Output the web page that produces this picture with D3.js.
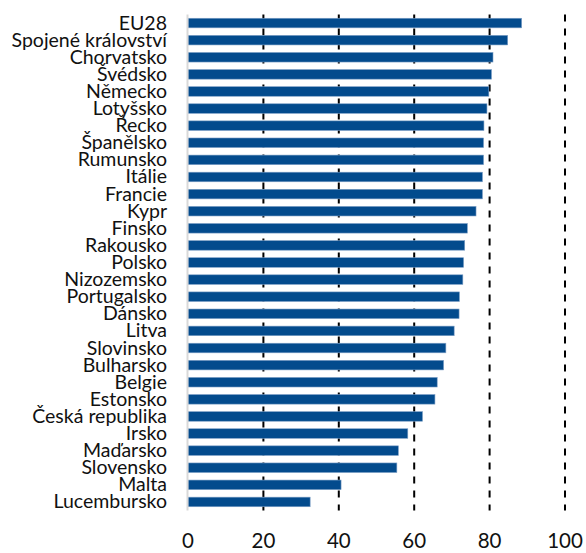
<!DOCTYPE html>
<html>
<head>
<meta charset="utf-8">
<title>Bar chart</title>
<script src="https://cdn.jsdelivr.net/npm/d3@7"></script>
<style>
  body { margin: 0; background: #fff; }
  svg { display: block; }
  .cat { font-family: Lato, "Liberation Sans", sans-serif; font-size: 19.5px; fill: #111; }
  .tick-lbl { font-family: Lato, "Liberation Sans", sans-serif; font-size: 20.5px; fill: #111; }
</style>
</head>
<body>
<svg id="chart"></svg>
<script>
// data
var countries = ["EU28", "Spojené království", "Chorvatsko", "Švédsko", "Německo", "Lotyšsko",
  "Řecko", "Španělsko", "Rumunsko", "Itálie", "Francie", "Kypr", "Finsko", "Rakousko", "Polsko",
  "Nizozemsko", "Portugalsko", "Dánsko", "Litva", "Slovinsko", "Bulharsko", "Belgie", "Estonsko",
  "Česká republika", "Irsko", "Maďarsko", "Slovensko", "Malta", "Lucembursko"];
var values = [88.5, 84.8, 80.9, 80.5, 79.8, 79.3, 78.5, 78.4, 78.4, 78.1, 78.1, 76.4, 74.1, 73.4,
  73.1, 72.9, 72.0, 71.9, 70.6, 68.4, 67.8, 66.1, 65.5, 62.2, 58.3, 55.8, 55.4, 40.6, 32.4];
var ticks = [0, 20, 40, 60, 80, 100];

var width = 586, height = 553;
var svg = d3.select("#chart").attr("width", width).attr("height", height);

var x = d3.scaleLinear().domain([0, 100]).range([188, 565]);
var y = d3.scaleBand().domain(countries).range([14.5, 510.5]).paddingInner(0.44).paddingOuter(0.22);

// dashed gridlines
svg.selectAll(".grid")
  .data(ticks.filter(function (t) { return t > 0; }))
  .enter().append("line")
  .attr("x1", function (d) { return x(d); })
  .attr("x2", function (d) { return x(d); })
  .attr("y1", 14.5).attr("y2", 510.5)
  .attr("stroke", "#000").attr("stroke-width", 2)
  .attr("stroke-dasharray", "7,7");

// bars
svg.selectAll(".bar")
  .data(values)
  .enter().append("rect")
  .attr("x", x(0))
  .attr("y", function (d, i) { return y(countries[i]); })
  .attr("width", function (d) { return x(d) - x(0); })
  .attr("height", y.bandwidth())
  .attr("fill", "#034b8d")
  .attr("stroke", "#7d9fc6").attr("stroke-width", 0.6);

// left axis line
svg.append("line")
  .attr("x1", x(0) - 0.5).attr("x2", x(0) - 0.5)
  .attr("y1", 14.5).attr("y2", 510.5)
  .attr("stroke", "#d9d9d9").attr("stroke-width", 2);

// category labels
svg.selectAll(".cat")
  .data(countries)
  .enter().append("text")
  .attr("class", "cat")
  .attr("x", 167)
  .attr("y", function (d) { return y(d) + y.bandwidth() / 2 - 1; })
  .attr("text-anchor", "end")
  .attr("dominant-baseline", "central")
  .text(function (d) { return d; });

// x tick labels
svg.selectAll(".tick-lbl")
  .data(ticks)
  .enter().append("text")
  .attr("class", "tick-lbl")
  .attr("x", function (d) { return x(d); })
  .attr("y", 548)
  .attr("text-anchor", "middle")
  .text(function (d) { return d; });
</script>
</body>
</html>
